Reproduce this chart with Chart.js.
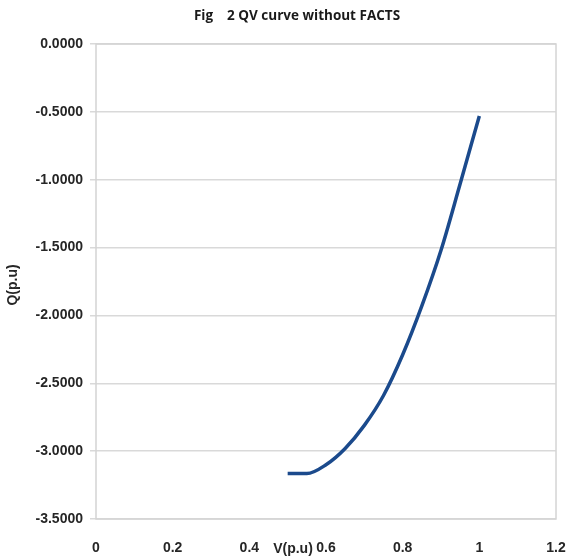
<!DOCTYPE html>
<html>
<head>
<meta charset="utf-8">
<script src="https://cdn.jsdelivr.net/npm/chart.js@4.4.1/dist/chart.umd.min.js"></script>
<style>
  html, body { margin: 0; padding: 0; background: #fff; }
  #wrap { width: 568px; height: 558px; }
</style>
</head>
<body>
<div id="wrap"><canvas id="graficoQV"></canvas></div>
<script>
// datos
const voltaje = [0.5, 0.55, 0.6, 0.65, 0.7, 0.75, 0.8, 0.85, 0.9, 0.95, 1.0];
const reactiva = [-3.165, -3.165, -3.10, -2.98, -2.81, -2.59, -2.29, -1.93, -1.52, -1.03, -0.53];
const tituloGrafico = 'Fig    2 QV curve without FACTS';
const tituloX = 'V(p.u)';
const tituloY = 'Q(p.u)';

// Marco + titulos
const marcoYTitulos = {
    id: 'marcoYTitulos',
    beforeDatasetsDraw(chart) {
        const { ctx, chartArea: { top, bottom, left, right } } = chart;
        ctx.save();
        ctx.strokeStyle = '#d4d4d4';
        ctx.lineWidth = 1.5;
        ctx.strokeRect(left, top, right - left, bottom - top);
        ctx.restore();
    },
    afterDraw(chart) {
        const { ctx } = chart;
        ctx.save();
        ctx.textAlign = 'center';
        ctx.textBaseline = 'middle';
        ctx.fillStyle = '#1a1a1a';
        ctx.font = 'bold 13.5px "Open Sans", sans-serif';
        ctx.fillText(tituloGrafico, 297, 16);
        ctx.font = 'bold 14px "Liberation Sans", Arial, sans-serif';
        ctx.fillStyle = '#262626';
        ctx.fillText(tituloX, 293, 549);
        ctx.translate(13, 285);
        ctx.rotate(-Math.PI / 2);
        ctx.fillText(tituloY, 0, 0);
        ctx.restore();
    }
};

const ctx = document.getElementById('graficoQV').getContext('2d');
new Chart(ctx, {
    type: 'line',
    data: {
        datasets: [{
            data: voltaje.map((v, i) => ({ x: v, y: reactiva[i] })),
            borderColor: '#1b4a8c',
            borderWidth: 3.5,
            pointRadius: 0,
            cubicInterpolationMode: 'monotone',
            fill: false
        }]
    },
    options: {
        responsive: true, maintainAspectRatio: false,
        animation: false,
        layout: { padding: { top: 44 } },
        plugins: {
            legend: { display: false },
            tooltip: { enabled: false },
            title: { display: false }
        },
        scales: {
            x: {
                type: 'linear', min: 0, max: 1.2,
                afterFit: s => { s.height = 39; s.paddingRight = 12; s.paddingLeft = 0; },
                border: { display: false },
                grid: { display: false },
                ticks: {
                    stepSize: 0.2, padding: 13, color: '#262626',
                    font: { family: '"Liberation Sans", Arial, sans-serif', size: 14, weight: 'bold' },
                    callback: v => String(Number(v.toFixed(1)))
                }
            },
            y: {
                min: -3.5, max: 0,
                afterFit: s => { s.width = 96; s.paddingTop = 0; s.paddingBottom = 0; },
                border: { display: false },
                grid: { color: '#d9d9d9', lineWidth: 1.5, tickLength: 6 },
                ticks: {
                    stepSize: 0.5, padding: 7, color: '#262626',
                    font: { family: '"Liberation Sans", Arial, sans-serif', size: 14, weight: 'bold' },
                    callback: v => v.toFixed(4)
                }
            }
        }
    },
    plugins: [marcoYTitulos]
});
</script>
</body>
</html>
